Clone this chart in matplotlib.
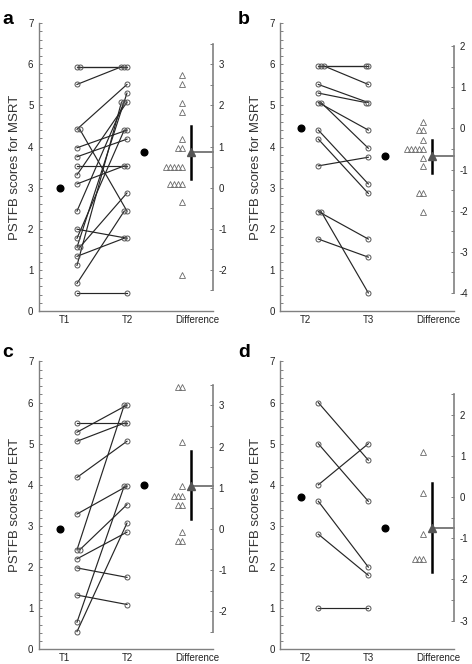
import numpy as np
import matplotlib.pyplot as plt
from matplotlib.ticker import MultipleLocator

plt.rcParams['font.family'] = ['Liberation Sans', 'DejaVu Sans']

# panel a : MSRT, T1 -> T2
a_pre = [5.94, 5.94, 5.51, 4.42, 4.42, 3.97, 3.75, 3.53, 3.31, 3.09, 2.43, 1.99, 1.77, 1.55, 1.55, 1.33, 1.11, 0.67, 0.45]
a_post = [5.94, 5.94, 5.94, 5.51, 2.43, 4.40, 4.18, 3.53, 5.08, 3.53, 5.08, 1.77, 4.40, 5.30, 2.87, 1.77, 5.08, 2.43, 0.45]
a_means = [3.0, 3.86]
a_diff = [2.73, 2.51, 2.06, 1.84, 1.18, 0.96, 0.96, 0.51, 0.51, 0.51, 0.51, 0.51, 0.08, 0.08, 0.08, 0.08, -0.36, -2.13]
a_dmean, a_ci = 0.86, [0.22, 1.50]

# panel b : MSRT, T2 -> T3
b_pre = [5.96, 5.96, 5.96, 5.51, 5.30, 5.07, 5.07, 4.40, 4.18, 3.53, 2.42, 2.42, 1.75]
b_post = [5.96, 5.96, 5.51, 5.07, 5.07, 4.40, 3.96, 3.09, 2.86, 3.74, 1.75, 0.44, 1.31]
b_means = [4.44, 3.77]
b_diff = [0.16, -0.04, -0.04, -0.27, -0.49, -0.49, -0.49, -0.49, -0.49, -0.71, -0.92, -1.58, -1.58, -2.02]
b_dmean, b_ci = -0.67, [-1.08, -0.28]

# panel c : ERT, T1 -> T2
c_pre = [5.50, 5.28, 5.06, 4.18, 3.29, 2.42, 2.42, 2.20, 1.98, 1.32, 0.66, 0.43]
c_post = [5.50, 5.94, 5.50, 5.06, 3.97, 5.94, 3.52, 2.85, 1.75, 1.09, 3.97, 3.07]
c_means = [2.93, 4.0]
c_diff = [3.46, 3.46, 2.12, 1.04, 0.81, 0.81, 0.81, 0.59, 0.59, -0.07, -0.29, -0.29]
c_dmean, c_ci = 1.04, [0.25, 1.90]

# panel d : ERT, T2 -> T3
d_pre = [6.0, 5.0, 4.0, 3.6, 2.8, 1.0]
d_post = [4.6, 3.6, 5.0, 2.0, 1.8, 1.0]
d_means = [3.70, 2.95]
d_diff = [1.10, 0.10, -0.89, -1.50, -1.50, -1.50]
d_dmean, d_ci = -0.75, [-1.82, 0.35]

GRAY = '#808080'


def dup_offsets(vals, step):
    seen = {}
    out = []
    for v in vals:
        k = seen.get(v, 0)
        seen[v] = k + 1
        out.append(k * step)
    return np.array(out)


def panel(ax, pre, post, means, diff, dmean, ci, rlim, xlabels, ylabel):
    xp = 1.0 + dup_offsets(pre, 0.055)
    xq = 2.0 - dup_offsets(post, 0.055)
    for x0, y0, x1, y1 in zip(xp, pre, xq, post):
        ax.plot([x0, x1], [y0, y1], color='#262626', lw=0.85, zorder=2)
    ax.plot(xp, pre, 'o', ms=3.6, mfc='none', mec='#555555', mew=0.7, zorder=3)
    ax.plot(xq, post, 'o', ms=3.6, mfc='none', mec='#555555', mew=0.7, zorder=3)
    ax.plot([0.66, 2.34], means, 'o', ls='none', ms=4.8, color='black', zorder=3)

    ax.set_xlim(0.24, 3.72)
    ax.set_ylim(0, 7)
    ax.spines['top'].set_visible(False)
    ax.spines['right'].set_visible(False)
    for s in ['left', 'bottom']:
        ax.spines[s].set_color(GRAY)
        ax.spines[s].set_linewidth(1.0)
    ax.set_yticks(range(0, 8))
    ax.yaxis.set_minor_locator(MultipleLocator(0.2))
    ax.tick_params(axis='y', which='both', direction='in', length=2.5, width=0.7,
                   color=GRAY, labelsize=7, labelcolor='#222222', pad=4)
    ax.set_xticks([0.74, 2.0, 3.4])
    ax.set_xticklabels(xlabels)
    ax.tick_params(axis='x', length=0, labelsize=7, labelcolor='#222222', pad=3)
    ax.set_ylabel(ylabel, fontsize=9.5, color='#333333', labelpad=5)

    ref = means[0]
    ax2 = ax.twinx()
    ax2.set_ylim(0 - ref, 7 - ref)
    for s in ['top', 'left', 'bottom']:
        ax2.spines[s].set_visible(False)
    ax2.spines['right'].set_bounds(rlim[0], rlim[1])
    ax2.spines['right'].set_color(GRAY)
    ax2.spines['right'].set_linewidth(1.2)
    ax2.set_yticks(np.arange(rlim[0], rlim[1] + 0.01, 0.5), minor=True)
    major = np.arange(np.ceil(rlim[0]), np.floor(rlim[1]) + 0.01, 1.0)
    ax2.set_yticks(major)
    ax2.set_yticklabels(['%d' % v for v in major])
    ax2.tick_params(axis='y', which='both', direction='in', length=2.5, width=0.7,
                    color=GRAY, labelsize=7, labelcolor='#222222', pad=4)

    # triangles stacked leftwards for equal values
    xt = 3.1 - dup_offsets(diff, 0.08)
    ax2.plot(xt, diff, '^', ls='none', ms=4.0, mfc='none', mec='#6a6a6a', mew=0.6, zorder=3)
    ax2.plot([3.28, 3.28], ci, color='black', lw=1.8, zorder=3)
    ax2.plot([3.28, 3.72], [dmean, dmean], color='#666666', lw=1.2, zorder=2, clip_on=False)
    ax2.plot([3.28], [dmean], '^', ms=6.0, color='#555555', zorder=4)


fig = plt.figure(figsize=(4.72, 6.64), dpi=100)
W, H = 0.3686, 0.4335
ax_a = fig.add_axes([0.0826, 0.5316, W, H])
ax_b = fig.add_axes([0.5939, 0.5316, W, H])
ax_c = fig.add_axes([0.0826, 0.0221, W, H])
ax_d = fig.add_axes([0.5939, 0.0221, W, H])

panel(ax_a, a_pre, a_post, a_means, a_diff, a_dmean, a_ci, (-2.5, 3.5),
      ['T1', 'T2', 'Difference'], 'PSTFB scores for MSRT')
panel(ax_b, b_pre, b_post, b_means, b_diff, b_dmean, b_ci, (-4.0, 2.0),
      ['T2', 'T3', 'Difference'], 'PSTFB scores for MSRT')
panel(ax_c, c_pre, c_post, c_means, c_diff, c_dmean, c_ci, (-2.5, 3.5),
      ['T1', 'T2', 'Difference'], 'PSTFB scores for ERT')
panel(ax_d, d_pre, d_post, d_means, d_diff, d_dmean, d_ci, (-3.0, 2.5),
      ['T2', 'T3', 'Difference'], 'PSTFB scores for ERT')

for txt, x, y in [('a', 0.004, 0.984), ('b', 0.504, 0.984), ('c', 0.004, 0.482), ('d', 0.504, 0.482)]:
    fig.text(x, y, txt, fontsize=14, fontweight='bold', va='top', ha='left')

fig.savefig('out.png', dpi=100)
